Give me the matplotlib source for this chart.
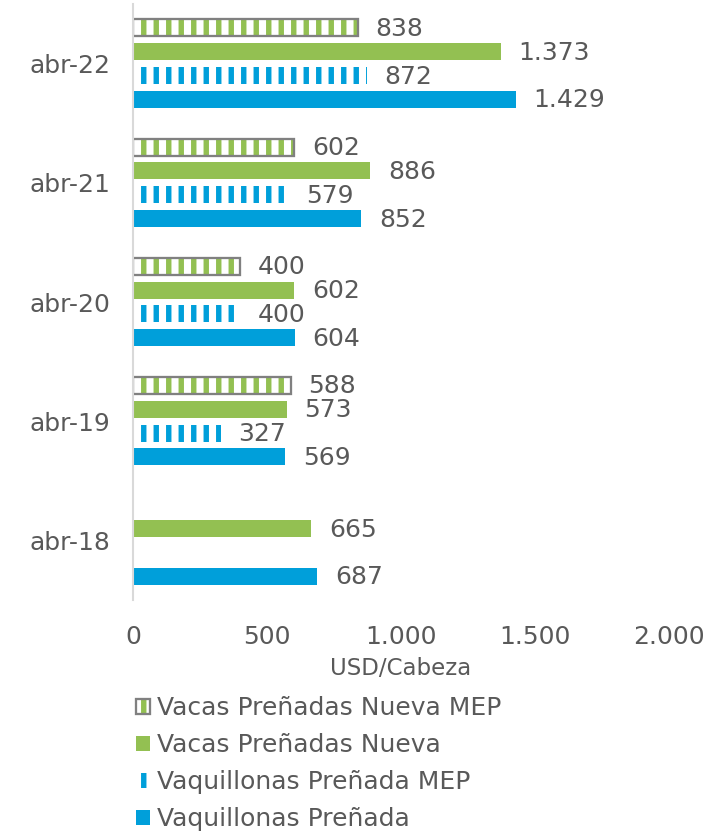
import numpy as np
import matplotlib
matplotlib.use("Agg")
import matplotlib.pyplot as plt

categories = ["abr-18", "abr-19", "abr-20", "abr-21", "abr-22"]
vacas_mep = [np.nan, 588, 400, 602, 838]
vacas = [665, 573, 602, 886, 1373]
vaq_mep = [np.nan, 327, 400, 579, 872]
vaq = [687, 569, 604, 852, 1429]
xticks = [0, 500, 1000, 1500, 2000]
xtick_labels = ["0", "500", "1.000", "1.500", "2.000"]
series_names = ["Vacas Preñadas Nueva MEP", "Vacas Preñadas Nueva",
                "Vaquillonas Preñada MEP", "Vaquillonas Preñada"]

GREEN = "#93C052"
BLUE = "#009FDA"
GREY = "#808080"
TEXT = "#595959"
DPI = 75
FS = 24

plt.rcParams["font.family"] = ["DejaVu Sans"]
plt.rcParams["hatch.linewidth"] = 5.2

fig = plt.figure(figsize=(728 / DPI, 835 / DPI), dpi=DPI)
ax = fig.add_axes([133 / 728, 1 - 600 / 835, 536 / 728, 596 / 835])

y = np.arange(len(categories))
h = 0.142
offs = [0.3, 0.1, -0.1, -0.3]

b1 = ax.barh(y + offs[0], vacas_mep, height=h, color="white", edgecolor=GREEN,
             hatch="|", linewidth=0)
b1o = ax.barh(y + offs[0], vacas_mep, height=h, fill=False, edgecolor=GREY,
              linewidth=2.2)
b2 = ax.barh(y + offs[1], vacas, height=h, color=GREEN, linewidth=0)
b3 = ax.barh(y + offs[2], vaq_mep, height=h, color="white", edgecolor=BLUE,
             hatch="|", linewidth=0)
b4 = ax.barh(y + offs[3], vaq, height=h, color=BLUE, linewidth=0)

def fmt(v):
    return f"{v:,.0f}".replace(",", ".")

for vals, off in zip([vacas_mep, vacas, vaq_mep, vaq], offs):
    for yi, v in zip(y, vals):
        if np.isnan(v):
            continue
        ax.annotate(fmt(v), (v, yi + off), xytext=(17, -1), textcoords="offset points",
                    va="center", ha="left", fontsize=FS, color=TEXT)

ax.set_xlim(0, 2000)
ax.set_ylim(-0.5, 4.5)
ax.set_yticks(y)
ax.set_yticklabels(categories)
ax.set_xticks(xticks)
ax.set_xticklabels(xtick_labels)
ax.tick_params(axis="both", length=0, labelsize=FS, labelcolor=TEXT)
ax.tick_params(axis="y", pad=22)
ax.tick_params(axis="x", pad=24)
for s in ["top", "right", "bottom"]:
    ax.spines[s].set_visible(False)
ax.spines["left"].set_color("#D9D9D9")
ax.spines["left"].set_linewidth(2)
ax.set_xlabel("USD/Cabeza", fontsize=22, color=TEXT, labelpad=8)

handles = [(b1, b1o), b2, b3, b4]
leg = fig.legend(handles, series_names, loc="upper left",
                 bbox_to_anchor=(136 / 728, 1 - 696 / 835), frameon=False,
                 fontsize=FS, handlelength=0.55, handleheight=0.55,
                 handletextpad=0.3, labelspacing=0.52, borderpad=0,
                 borderaxespad=0)
for t in leg.get_texts():
    t.set_color(TEXT)

fig.savefig("out.png", dpi=DPI)
